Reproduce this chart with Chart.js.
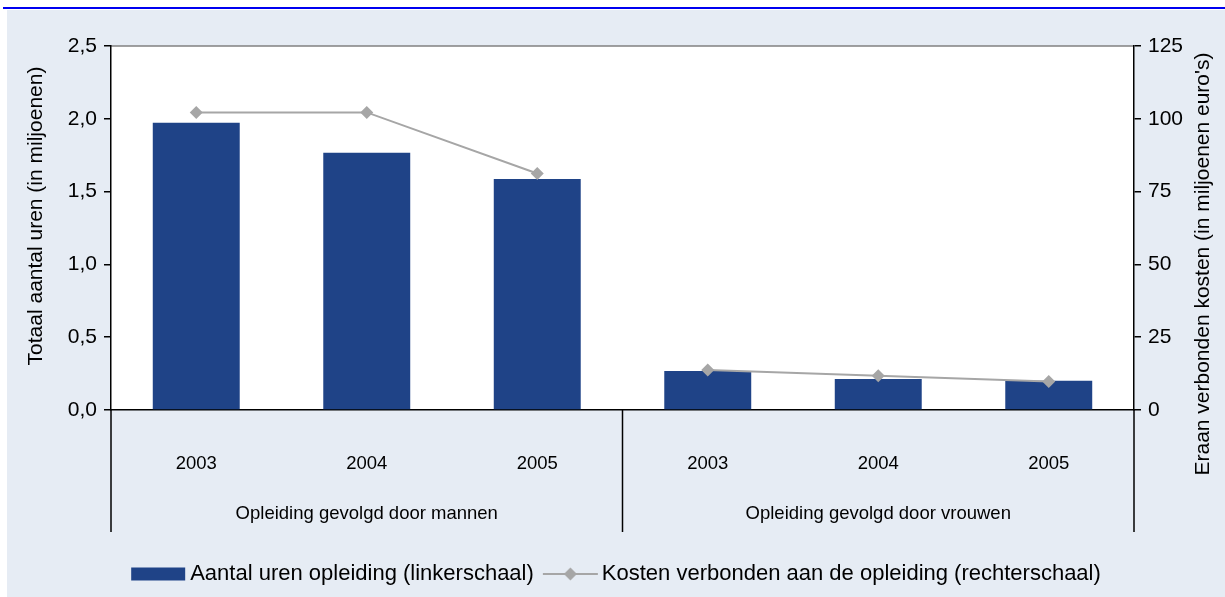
<!DOCTYPE html>
<html>
<head>
<meta charset="utf-8">
<script src="https://cdn.jsdelivr.net/npm/chart.js@4"></script>
<style>
  html, body { margin: 0; padding: 0; background: #fff; }
  #wrap { width: 1225px; height: 597px; position: relative; }
</style>
</head>
<body>
<div id="wrap"><canvas id="chart"></canvas></div>
<script>
const years = ["2003", "2004", "2005", "2003", "2004", "2005"];
const groups = ["Opleiding gevolgd door mannen", "Opleiding gevolgd door vrouwen"];
const hours = [1.973, 1.767, 1.587, 0.268, 0.213, 0.201];
const costs = [102.2, 102.2, 81.2, 13.7, 11.8, 9.8];
const leftTicks = [0, 0.5, 1.0, 1.5, 2.0, 2.5];
const rightTicks = [0, 25, 50, 75, 100, 125];

const BLUE = "#1F4387";
const GREY = "#A6A6A6";
const PAGE = "#E6ECF4";
const ARIAL = "'Liberation Sans', Arial, sans-serif";

// legend symbols: wide canvases, symbol sits in the middle-left part
function legendSymbol(kind) {
  const c = document.createElement("canvas");
  c.width = 106;
  c.height = 18;
  const g = c.getContext("2d");
  if (kind === "bar") {
    g.fillStyle = BLUE;
    g.fillRect(29, 2.5, 54, 13);
  } else {
    g.strokeStyle = GREY;
    g.lineWidth = 2;
    g.beginPath();
    g.moveTo(29, 9);
    g.lineTo(84, 9);
    g.stroke();
    g.fillStyle = GREY;
    g.beginPath();
    g.moveTo(56.5 - 6.5, 9);
    g.lineTo(56.5, 2.5);
    g.lineTo(56.5 + 6.5, 9);
    g.lineTo(56.5, 15.5);
    g.closePath();
    g.fill();
  }
  return c;
}

const frame = {
  id: "frame",
  beforeDraw(chart) {
    const { ctx, chartArea } = chart;
    ctx.save();
    ctx.fillStyle = "#fff";
    ctx.fillRect(0, 0, chart.width, chart.height);
    ctx.fillStyle = "#0000F0";
    ctx.fillRect(3, 7, chart.width - 3, 2);
    ctx.fillStyle = PAGE;
    ctx.fillRect(7, 10, chart.width - 7, chart.height - 10);
    ctx.fillStyle = "#fff";
    ctx.fillRect(chartArea.left, chartArea.top, chartArea.right - chartArea.left, chartArea.bottom - chartArea.top);
    ctx.strokeStyle = "#808080";
    ctx.lineWidth = 1.5;
    ctx.beginPath();
    ctx.moveTo(chartArea.left, chartArea.top);
    ctx.lineTo(chartArea.right, chartArea.top);
    ctx.stroke();
    ctx.restore();
  },
  afterDraw(chart) {
    const { ctx, chartArea, scales } = chart;
    const x = scales.x;
    const y0 = x.top;
    const y1 = scales.x2.top + 42;
    const mid = (x.getPixelForValue(2) + x.getPixelForValue(3)) / 2;
    ctx.save();
    ctx.strokeStyle = "#000";
    ctx.lineWidth = 1.5;
    [chartArea.left, mid, chartArea.right].forEach(px => {
      ctx.beginPath();
      ctx.moveTo(px, y0);
      ctx.lineTo(px, y1);
      ctx.stroke();
    });
    // axis titles, both read bottom to top
    ctx.fillStyle = "#000";
    ctx.font = "21px " + ARIAL;
    ctx.textAlign = "center";
    ctx.textBaseline = "middle";
    ctx.translate(36, chartArea.top + 170);
    ctx.rotate(-Math.PI / 2);
    ctx.fillText("Totaal aantal uren (in miljoenen)", 0, 0);
    ctx.restore();
    ctx.save();
    ctx.fillStyle = "#000";
    ctx.font = "21px " + ARIAL;
    ctx.textAlign = "center";
    ctx.textBaseline = "middle";
    ctx.translate(1203, chartArea.top + 218);
    ctx.rotate(-Math.PI / 2);
    ctx.fillText("Eraan verbonden kosten (in miljoenen euro's)", 0, 0);
    ctx.restore();
  }
};

new Chart(document.getElementById("chart"), {
  data: {
    labels: years,
    datasets: [
      {
        type: "bar",
        label: "Aantal uren opleiding (linkerschaal)",
        data: hours,
        yAxisID: "y",
        backgroundColor: BLUE,
        barPercentage: 0.51,
        categoryPercentage: 1,
        order: 2,
      },
      {
        type: "line",
        label: "Kosten verbonden aan de opleiding (rechterschaal)",
        data: costs,
        yAxisID: "y1",
        borderColor: GREY,
        borderWidth: 2,
        backgroundColor: GREY,
        pointStyle: "rectRot",
        pointRadius: 6.5,
        pointBorderWidth: 0,
        fill: false,
        tension: 0,
        // no connection between the two groups
        segment: { borderColor: c => (c.p0DataIndex === 2 ? "rgba(0,0,0,0)" : GREY) },
        order: 1,
      },
    ],
  },
  plugins: [frame],
  options: {
    responsive: true,
    maintainAspectRatio: false,
    animation: false,
    layout: {
      padding: { top: 46, left: 7, right: 0, bottom: 2 },
    },
    plugins: {
      tooltip: { enabled: false },
      legend: {
        position: "bottom",
        labels: {
          usePointStyle: true,
          pointStyleWidth: 48,
          boxHeight: 22,
          padding: 9,
          color: "#000",
          font: { family: ARIAL, size: 22 },
          generateLabels(chart) {
            return chart.data.datasets.map((ds, i) => ({
              text: ds.label,
              pointStyle: legendSymbol(ds.type),
              fillStyle: "transparent",
              strokeStyle: "transparent",
              lineWidth: 0,
              fontColor: "#000",
              datasetIndex: i,
              hidden: false,
            }));
          },
        },
      },
    },
    scales: {
      x: {
        position: "bottom",
        offset: true,
        grid: { display: false },
        border: { display: true, color: "#000", width: 1.5 },
        ticks: { color: "#000", padding: 35, font: { family: ARIAL, size: 18.5 } },
        afterFit(s) { s.height = 80; },
      },
      x2: {
        type: "category",
        position: "bottom",
        labels: groups,
        offset: true,
        grid: { display: false },
        border: { display: false },
        ticks: { color: "#000", padding: 5, font: { family: ARIAL, size: 18.5 } },
        afterFit(s) { s.height = 64; },
      },
      y: {
        position: "left",
        min: 0,
        max: 2.5,
        afterBuildTicks(s) { s.ticks = leftTicks.map(v => ({ value: v })); },
        grid: { drawOnChartArea: false, drawTicks: true, tickLength: 7, color: "#000", lineWidth: 1.5 },
        border: { color: "#000", width: 1.5 },
        ticks: {
          color: "#000",
          padding: 7,
          font: { family: ARIAL, size: 21 },
          callback: v => v.toFixed(1).replace(".", ","),
        },
        afterFit(s) { s.width = 104; },
      },
      y1: {
        position: "right",
        min: 0,
        max: 125,
        afterBuildTicks(s) { s.ticks = rightTicks.map(v => ({ value: v })); },
        grid: { drawOnChartArea: false, drawTicks: true, tickLength: 7, color: "#000", lineWidth: 1.5 },
        border: { color: "#000", width: 1.5 },
        ticks: { color: "#000", padding: 7, font: { family: ARIAL, size: 21 } },
        afterFit(s) { s.width = 91; },
      },
    },
  },
});
</script>
</body>
</html>
